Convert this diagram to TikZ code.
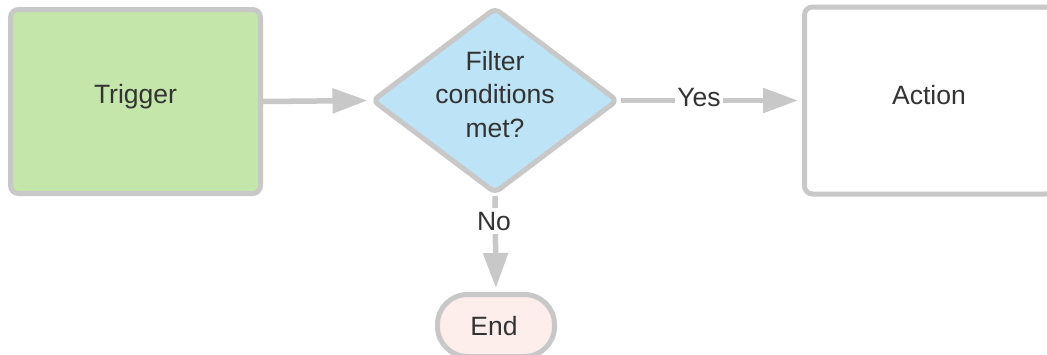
\documentclass[tikz,border=0pt]{standalone}
\usepackage{fontspec}
\setmainfont{Liberation Sans}
\usetikzlibrary{shapes.geometric,arrows.meta}
\definecolor{strokegray}{RGB}{200,200,200}
\definecolor{txt}{RGB}{51,51,51}
\definecolor{trigfill}{RGB}{197,230,171}
\definecolor{decfill}{RGB}{189,227,246}
\definecolor{endfill}{RGB}{253,238,236}
\begin{document}
\begin{tikzpicture}[x=1pt,y=1pt,
  shapebox/.style={draw=strokegray,line width=5pt,inner sep=0pt},
  lbl/.style={text=txt,font=\fontsize{26.5}{33.5}\selectfont,inner sep=0pt},
  conn/.style={draw=strokegray,line width=5.5pt,-{Triangle[length=35pt,width=24pt]}},
  edgelbl/.style={lbl,fill=white,inner xsep=2pt,inner ysep=4pt}]
\useasboundingbox (0,0) rectangle (1047,-354);
\clip (0,0) rectangle (1047,-354);
\fill[white] (0,0) rectangle (1047,-354);
% shapes
\node[shapebox,fill=trigfill,rectangle,rounded corners=8pt,minimum width=250pt,minimum height=184pt] (trig) at (135.5,-101.5) {};
\node[shapebox,fill=decfill,diamond,rounded corners=6pt,minimum width=246pt,minimum height=186pt] (dec) at (495,-100.5) {};
\node[shapebox,fill=white,rectangle,rounded corners=8pt,minimum width=249pt,minimum height=187pt] (act) at (929,-100.5) {};
\node[shapebox,fill=endfill,rectangle,rounded corners=30pt,minimum width=117pt,minimum height=62pt] (fin) at (496,-325.5) {};
% texts
\node[lbl,anchor=base] (trigt) at (135.5,-103.5) {Trigger};
\node[lbl,anchor=base] (dect1) at (495,-70) {Filter};
\node[lbl,anchor=base] (dect2) at (495,-103.5) {conditions};
\node[lbl,anchor=base] (dect3) at (495,-137) {met?};
\node[lbl,anchor=base] (actt) at (929,-104.3) {Action};
\node[lbl,anchor=base] (fint) at (494,-335) {End};
% connectors
\draw[conn,shorten >=2pt] (trig.east) -- (dec.west);
\draw[conn,shorten >=4pt] (dec.east) -- (act.west);
\draw[conn,shorten >=4pt] (dec.south) -- (fin.north);
% edge labels
\node[edgelbl,anchor=base] (yes) at (699,-106.7) {Yes};
\node[edgelbl,anchor=base] (no) at (494,-230) {No};
\end{tikzpicture}
\end{document}
